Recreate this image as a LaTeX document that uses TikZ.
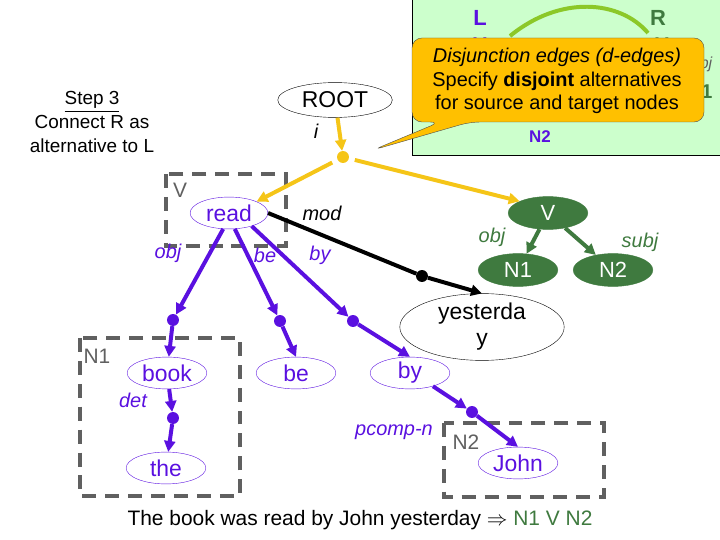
\documentclass[tikz,border=0pt]{standalone}
\usepackage{fontspec}
\setmainfont{Liberation Sans}
\usepackage{amssymb}
\usetikzlibrary{shapes.geometric,arrows.meta,calc}
\definecolor{pur}{HTML}{5A10E0}
\definecolor{gold}{HTML}{F5C518}
\definecolor{callout}{HTML}{FFC000}
\definecolor{dgreen}{HTML}{3F7A3F}
\definecolor{lgreen}{HTML}{CCFFCC}
\definecolor{dgrey}{HTML}{606060}
\tikzset{
  word/.style={draw=pur, ellipse, inner sep=0pt, minimum width=80, minimum height=32, text=pur, font=\fontsize{23}{25}\selectfont},
  gnode/.style={draw=dgreen, fill=dgreen, ellipse, inner sep=0pt, minimum width=80, minimum height=33, text=white, font=\fontsize{22}{24}\selectfont},
  lab/.style={font=\fontsize{20}{22}\selectfont\itshape},
  dot/.style={circle, inner sep=0pt, minimum size=12},
  pe/.style={draw=pur, line width=4, -{Triangle[length=11,width=11]}},
  ge/.style={draw=dgreen, line width=4, -{Triangle[length=11,width=11]}},
  ye/.style={draw=gold, line width=4, -{Triangle[length=11,width=11]}},
  be/.style={draw=black, line width=4, -{Triangle[length=11,width=11]}},
  dbox/.style={draw=dgrey, line width=4, dash pattern=on 14 off 9},
  boxlab/.style={text=dgrey, font=\fontsize{21}{23}\selectfont}
}
\begin{document}
\begin{tikzpicture}[x=1bp,y=-1bp]
\useasboundingbox (0,0) rectangle (720,540);
% green panel
\draw[fill=lgreen] (412,-2) rectangle (722,155);
\node[inner sep=0pt, text=pur, font=\fontsize{22}{24}\selectfont\bfseries] (L) at (480,18) {L};
\node[inner sep=0pt, text=dgreen, font=\fontsize{22}{24}\selectfont\bfseries] (R) at (658,18) {R};
\node[inner sep=0pt, text=pur, font=\fontsize{20}{22}\selectfont\bfseries] (lv) at (480,45) {V};
\node[inner sep=0pt, text=dgreen, font=\fontsize{20}{22}\selectfont\bfseries] (rv) at (662,45) {V};
\node[text=dgrey, font=\fontsize{16}{18}\selectfont\itshape] (rbj) at (706,64) {bj};
\node[text=dgreen, font=\fontsize{20}{22}\selectfont\bfseries] (r1) at (707,92) {1};
\node[text=pur, font=\fontsize{17}{19}\selectfont\bfseries] (ln2) at (540,137) {N2};
\draw[draw={rgb,255:red,140;green,200;blue,40}, line width=4] (510,36) .. controls (560,-5) and (620,0) .. (648,33);
% step text
\node[align=center, font=\fontsize{19}{24}\selectfont] (step) at (92,122) {\underline{Step 3}\\Connect R as\\alternative to L};
% root
\node[draw, ellipse, inner sep=0pt, minimum width=115, minimum height=35, font=\fontsize{23}{25}\selectfont] (root) at (335,100) {ROOT};
\node[lab] (il) at (316,131) {i};
\node[dot, fill=gold] (yd) at (343,157) {};
% callout
\draw[fill=callout, draw=black!70, rounded corners=10] (412,38) -- (704,38) -- (704,122) -- (470,122) -- (373,150) -- (440,122) -- (412,122) -- cycle;
\node[align=center, font=\fontsize{20}{23.5}\selectfont] (co) at (557,81) {\textit{Disjunction edges (d-edges)}\\Specify \textbf{disjoint} alternatives\\for source and target nodes};
% dashed boxes
\draw[dbox] (166,174) rectangle (286,246);
\node[boxlab] (vl) at (180,190) {V};
\draw[dbox] (80,338) rectangle (240,496);
\node[boxlab] (n1l) at (97,356) {N1};
\draw[dbox] (444,423) rectangle (604,497);
\node[boxlab] (n2l) at (466,442) {N2};
% word nodes
\node[word, minimum width=78] (read) at (229,213) {read};
\node[word] (book) at (167,373) {book};
\node[word] (bew) at (296,373) {be};
\node[word] (byw) at (410,373) {by};
\node[word] (the) at (166,468) {the};
\node[word] (john) at (518,463) {John};
\node[draw, ellipse, inner sep=0pt, minimum width=165, minimum height=48, align=center, font=\fontsize{23}{26}\selectfont] (yest) at (482,327) {yesterda\\y};
% green graph
\node[gnode] (gv) at (548,213) {V};
\node[gnode] (gn1) at (518,270) {N1};
\node[gnode] (gn2) at (613,270) {N2};
\draw[ge] (gv) -- (gn1);
\draw[ge] (gv) -- (gn2);
\node[lab, text=dgreen] (objg) at (492,237) {obj};
\node[lab, text=dgreen] (subjg) at (640,242) {subj};
% yellow edges
\draw[ye] (root) -- (yd);
\draw[ye, shorten <=6] (yd) -- (read.north east);
\draw[ye, shorten <=6] (yd) -- (gv.north west);
% dots
\node[dot, fill=black] (md) at (422,276) {};
\node[dot, fill=pur] (od) at (173,320) {};
\node[dot, fill=pur] (bd) at (280,321) {};
\node[dot, fill=pur] (byd) at (353,321) {};
\node[dot, fill=pur] (dd) at (173,418) {};
\node[dot, fill=pur] (pd) at (472,412) {};
% black edge
\draw[be, -] (read.east) -- (md);
\draw[be] (md) -- (yest.north);
\node[lab] (modl) at (322,213) {mod};
% purple edges
\draw[pe] (read.250) -- (od);
\draw[pe] (od) -- (book);
\draw[pe] (read.290) -- (bd);
\draw[pe] (bd) -- (bew.north);
\draw[pe] (read.330) -- (byd);
\draw[pe] (byd) -- (byw.north);
\draw[pe] (book) -- (dd);
\draw[pe] (dd) -- (the);
\draw[pe] (byw.330) -- (pd);
\draw[pe] (pd) -- (john.north);
\node[lab, text=pur] (objl) at (168,253) {obj};
\node[lab, text=pur] (bel) at (265,255) {be};
\node[lab, text=pur] (byl) at (320,255) {by};
\node[lab, text=pur] (detl) at (133,400) {det};
\node[lab, text=pur] (pcl) at (394,432) {pcomp-n};
% sentence
\node[font=\fontsize{21}{23}\selectfont] (sent) at (360,520) {The book was read by John yesterday $\Rightarrow$ \textcolor{dgreen}{N1 V N2}};
\end{tikzpicture}
\end{document}
